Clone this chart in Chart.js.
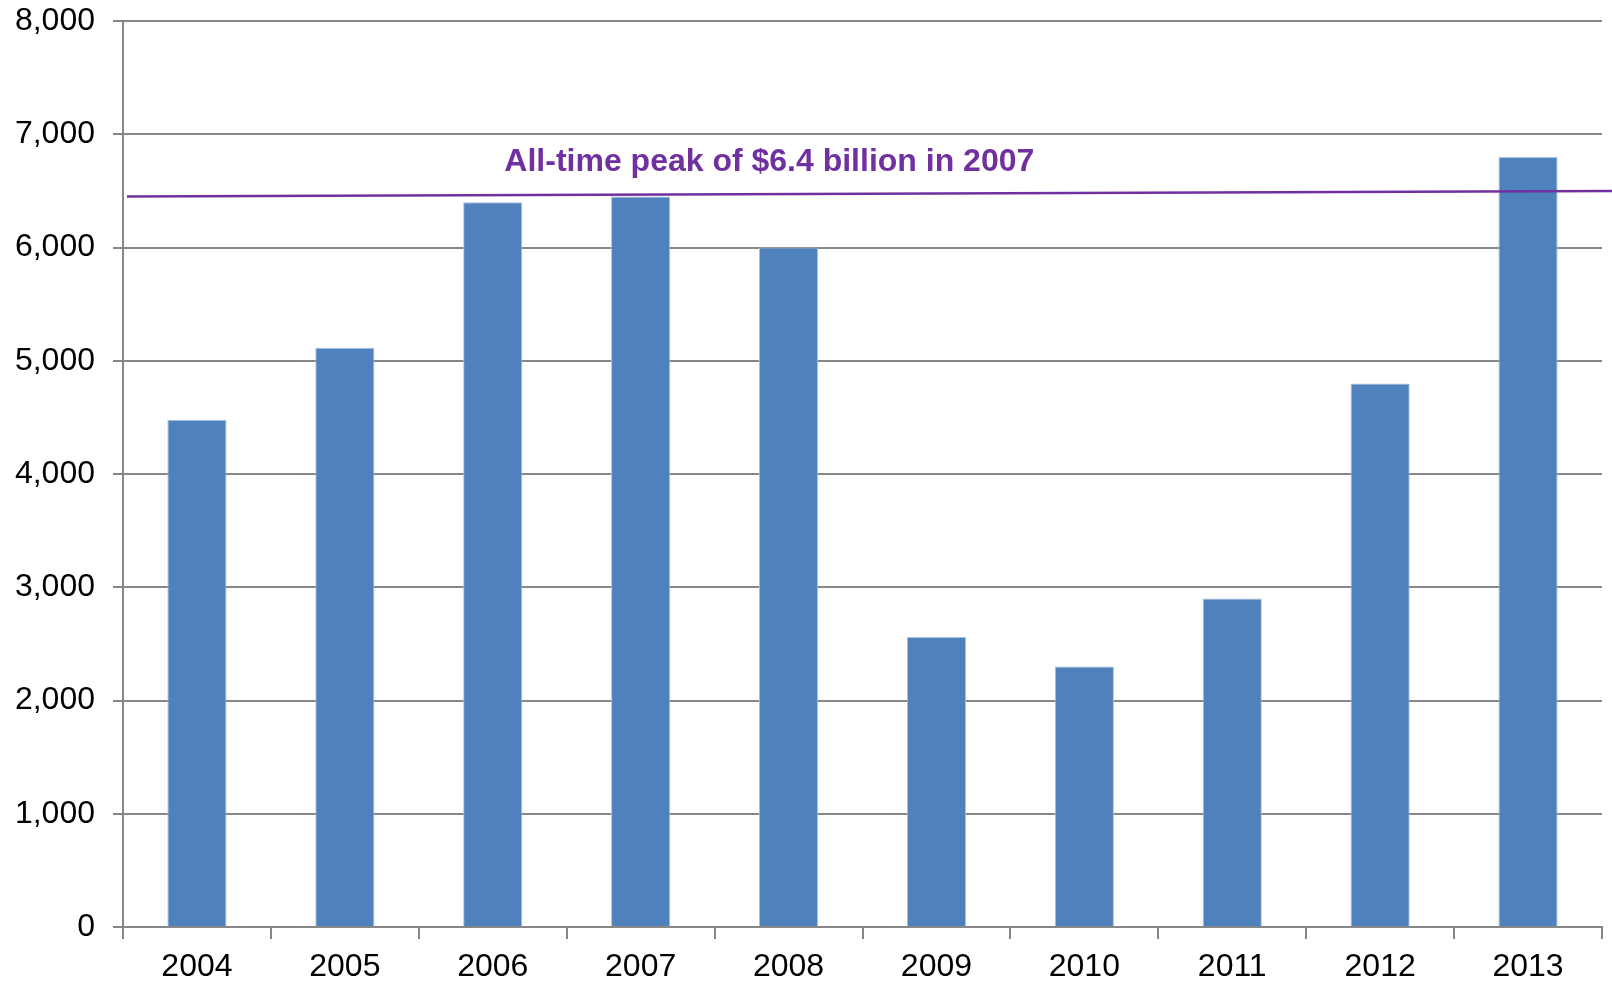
<!DOCTYPE html>
<html>
<head>
<meta charset="utf-8">
<title>Annual totals 2004-2013</title>
<script src="https://cdn.jsdelivr.net/npm/chart.js@4/dist/chart.umd.min.js"></script>
<style>
  html, body { margin: 0; padding: 0; background: #fff; }
  #wrap { width: 1612px; height: 983px; }
</style>
</head>
<body>
<div id="wrap"><canvas id="myChart"></canvas></div>
<script>
var years = ["2004", "2005", "2006", "2007", "2008", "2009", "2010", "2011", "2012", "2013"];
var totals = [4480, 5115, 6400, 6450, 6000, 2560, 2300, 2900, 4800, 6800];
var yTicks = [0, 1000, 2000, 3000, 4000, 5000, 6000, 7000, 8000];

// the purple reference line runs slightly uphill, start and end value
var peakLine = [6450, 6500];
var peakText = "All-time peak of $6.4 billion in 2007";
var peakTextValue = 6750;

var purple = '#7030a0';
var gray = '#878787';
var fontFamily = '"Liberation Sans", Arial, sans-serif';

// draws the peak line and its caption on top of the bars
var peakPlugin = {
    id: 'peak',
    afterDatasetsDraw: function(chart) {
        var c = chart.ctx, y = chart.scales.y, area = chart.chartArea;
        c.save();
        c.strokeStyle = purple;
        c.lineWidth = 2.5;
        c.beginPath();
        c.moveTo(area.left + 4, y.getPixelForValue(peakLine[0]));
        c.lineTo(chart.width, y.getPixelForValue(peakLine[1]));
        c.stroke();

        c.fillStyle = purple;
        c.font = 'bold 32px ' + fontFamily;
        c.textAlign = 'center';
        c.textBaseline = 'middle';
        c.fillText(peakText, area.left + (area.right - area.left) * 0.437, y.getPixelForValue(peakTextValue));
        c.restore();
    }
};

var ctx = document.getElementById('myChart').getContext('2d');
var chart = new Chart(ctx, {
    type: 'bar',
    data: {
        labels: years,
        datasets: [{
            data: totals,
            backgroundColor: '#4f81bd',
            borderColor: '#a9c0de',
            borderWidth: 1,
            barPercentage: 0.4,
            categoryPercentage: 1
        }]
    },
    plugins: [peakPlugin],
    options: {
        responsive: true,
        maintainAspectRatio: false,
        animation: false,
        layout: { padding: { top: 21, right: 10, bottom: 0, left: 0 } },
        plugins: {
            legend: { display: false },
            tooltip: { enabled: false }
        },
        scales: {
            x: {
                grid: {
                    offset: true,
                    drawOnChartArea: false,
                    drawTicks: true,
                    tickLength: 12,
                    color: gray,
                    lineWidth: 2
                },
                border: { color: gray, width: 2 },
                ticks: {
                    color: '#000',
                    padding: 9,
                    font: { family: fontFamily, size: 32 }
                },
                afterFit: function(scale) {
                    scale.height = 56;
                    scale.paddingLeft = 0;
                    scale.paddingRight = 0;
                }
            },
            y: {
                min: 0,
                max: 8000,
                afterBuildTicks: function(scale) {
                    scale.ticks = yTicks.map(function(v) { return { value: v }; });
                },
                grid: {
                    color: gray,
                    lineWidth: 2,
                    tickLength: 10
                },
                border: { color: gray, width: 2 },
                ticks: {
                    color: '#000',
                    padding: 18,
                    font: { family: fontFamily, size: 32 },
                    callback: function(v) { return v.toLocaleString('en-US'); }
                },
                afterFit: function(scale) {
                    scale.width = 123;
                    scale.paddingTop = 0;
                    scale.paddingBottom = 0;
                }
            }
        }
    }
});
</script>
</body>
</html>
